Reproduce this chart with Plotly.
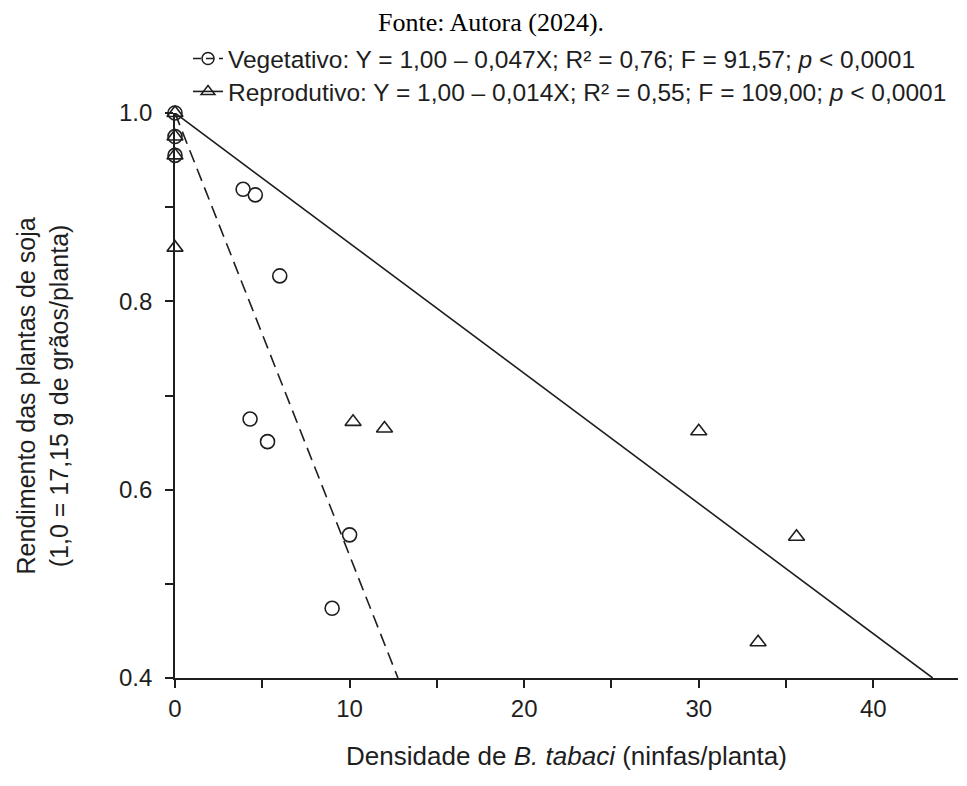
import plotly.graph_objects as go

# Vegetativo (circles)
veg_x = [0, 0, 0, 3.9, 4.6, 6.0, 4.3, 5.3, 10.0, 9.0]
veg_y = [1.0, 0.975, 0.955, 0.919, 0.913, 0.827, 0.675, 0.651, 0.552, 0.474]

# Reprodutivo (triangles)
rep_x = [0, 0, 0, 0, 10.2, 12.0, 30.0, 35.6, 33.4]
rep_y = [1.0, 0.975, 0.955, 0.857, 0.672, 0.665, 0.662, 0.550, 0.438]

# fitted lines as drawn in the figure (start and end points)
veg_fit_x = [0, 12.77]
veg_fit_y = [1.0, 0.4]
rep_fit_x = [0, 43.4]
rep_fit_y = [1.0, 0.4]

veg_name = "Vegetativo: Y = 1,00 – 0,047X; R² = 0,76; F = 91,57; <i>p</i> < 0,0001"
rep_name = "Reprodutivo: Y = 1,00 – 0,014X; R² = 0,55; F = 109,00; <i>p</i> < 0,0001"
y_title = "Rendimento das plantas de soja<br>(1,0 = 17,15 g de grãos/planta)"
x_title = "Densidade de <i>B. tabaci</i> (ninfas/planta)"

ink = "#1e1e1e"
font = "Liberation Sans, Arial, sans-serif"

fig = go.Figure()

# regression lines
fig.add_trace(go.Scatter(x=veg_fit_x, y=veg_fit_y, mode='lines', showlegend=False,
                         line=dict(color=ink, width=1.6, dash='13px,7px')))
fig.add_trace(go.Scatter(x=rep_fit_x, y=rep_fit_y, mode='lines', showlegend=False,
                         line=dict(color=ink, width=1.6)))

# observations
fig.add_trace(go.Scatter(x=veg_x, y=veg_y, mode='markers', showlegend=False,
                         cliponaxis=False,
                         marker=dict(symbol='circle-open', size=14,
                                     color=ink, line=dict(width=1.6))))
fig.add_trace(go.Scatter(x=rep_x, y=rep_y, mode='markers', showlegend=False,
                         cliponaxis=False,
                         marker=dict(symbol='triangle-up-open', size=14,
                                     color=ink, line=dict(width=1.6))))

# legend entries (one legend per row so the row spacing can be set)
fig.add_trace(go.Scatter(x=[None], y=[None], mode='lines+markers', name=veg_name,
                         legend='legend',
                         line=dict(color=ink, width=1.6, dash='8px,5px'),
                         marker=dict(symbol='circle-open', size=12, color=ink,
                                     line=dict(width=1.5))))
fig.add_trace(go.Scatter(x=[None], y=[None], mode='lines+markers', name=rep_name,
                         legend='legend2',
                         line=dict(color=ink, width=1.6),
                         marker=dict(symbol='triangle-up-open', size=12, color=ink,
                                     line=dict(width=1.5))))

leg = dict(xref='container', yref='container', x=0.1877,
           xanchor='left', yanchor='top', bgcolor='rgba(0,0,0,0)',
           font=dict(size=24.5), itemwidth=30)

# the page body has an 8px margin, so the figure is a bit smaller than the window
fig.update_layout(
    width=959, height=778,
    margin=dict(l=167, r=9, t=105, b=108, autoexpand=False),
    paper_bgcolor='white', plot_bgcolor='white',
    font=dict(family=font, size=24, color=ink),
    title=dict(text="Fonte: Autora (2024).", x=0.5037, xanchor='center',
               y=0.9826, yanchor='middle',
               font=dict(family="Liberation Serif, Times New Roman, serif",
                         size=26, color='black')),
    legend=dict(leg, y=0.964),
    legend2=dict(leg, y=0.9216),
    showlegend=True,
    annotations=[dict(text=y_title, textangle=-90, xref='paper', yref='paper',
                      x=-0.1686, y=0.5, xanchor='center', yanchor='middle',
                      showarrow=False, font=dict(size=25, color=ink))],
)

fig.update_xaxes(
    range=[0, 44.85], showgrid=False, zeroline=False,
    showline=True, linecolor=ink, linewidth=1.6,
    ticks='outside', tickcolor=ink, ticklen=8, tickwidth=1.6,
    tick0=0, dtick=10,
    minor=dict(dtick=5, ticks='outside', ticklen=8, tickcolor=ink, tickwidth=1.6),
    tickfont=dict(size=24),
    title=dict(text=x_title, font=dict(size=26), standoff=26),
)
fig.update_yaxes(
    range=[0.4, 1.0], showgrid=False, zeroline=False,
    showline=True, linecolor=ink, linewidth=1.6,
    ticks='outside', tickcolor=ink, ticklen=8, tickwidth=1.6,
    tick0=0.4, dtick=0.2, tickformat='.1f', ticklabelstandoff=8,
    minor=dict(dtick=0.1, ticks='outside', ticklen=8, tickcolor=ink, tickwidth=1.6),
    tickfont=dict(size=24),
)

fig.write_html("out.html")
